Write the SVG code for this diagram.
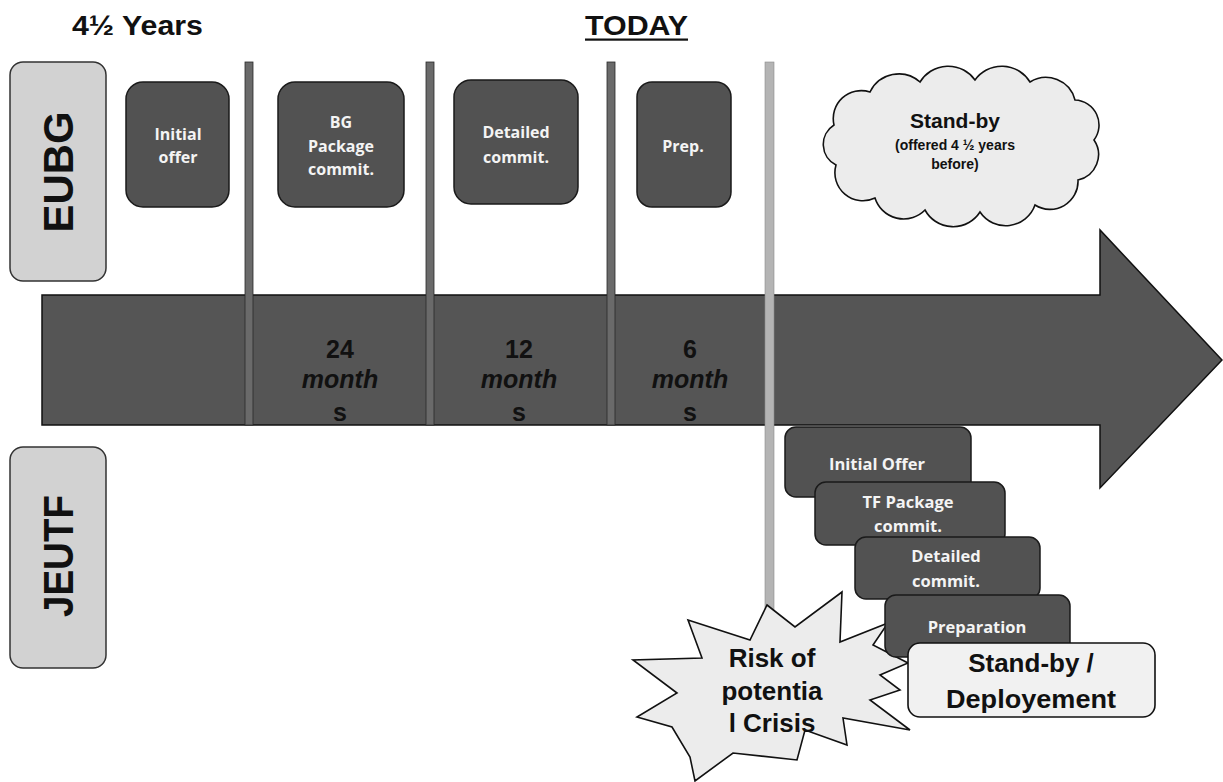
<svg xmlns="http://www.w3.org/2000/svg" width="1223" height="782" viewBox="0 0 1223 782">
<style>
.title{font-family:"Liberation Sans",Arial,sans-serif;font-weight:bold;font-size:28px;fill:#111}
.lane{fill:#d2d2d2;stroke:#333;stroke-width:1.5}
.laneTxt{font-family:"Liberation Sans",Arial,sans-serif;font-weight:bold;font-size:42px;fill:#111}
.dark{fill:#525252;stroke:#1a1a1a;stroke-width:1.5}
.wt{font-family:"Open Sans","Liberation Sans",sans-serif;font-weight:bold;font-size:16px;fill:#f4f4f4;text-anchor:middle}
.wt2{font-family:"Open Sans","Liberation Sans",sans-serif;font-weight:bold;font-size:16.5px;fill:#f4f4f4;text-anchor:middle}
.mon{font-family:"Liberation Sans",Arial,sans-serif;font-weight:bold;font-size:25px;fill:#111;text-anchor:middle}
.it{font-style:italic}
.div{fill:#6a6a6a;stroke:#2a2a2a;stroke-width:0.8}
.light{fill:#ececec;stroke:#111;stroke-width:1.6}
.bk{font-family:"Liberation Sans",Arial,sans-serif;font-weight:bold;fill:#111;text-anchor:middle}
</style>

<g id="titles">
<text class="title" x="72" y="35" textLength="131" lengthAdjust="spacingAndGlyphs">4½ Years</text>
<text class="title" x="585" y="35" textLength="103" lengthAdjust="spacingAndGlyphs">TODAY</text>
<rect x="585" y="38.5" width="103" height="2.2" fill="#111"/>
</g>

<g id="lane-eubg">
<rect class="lane" x="10" y="62" width="96" height="219" rx="13"/>
<text class="laneTxt" transform="translate(58,172) rotate(-90)" text-anchor="middle" dominant-baseline="central" textLength="121" lengthAdjust="spacingAndGlyphs">EUBG</text>
</g>

<g id="lane-jeutf">
<rect class="lane" x="10" y="447" width="96" height="221" rx="13"/>
<text class="laneTxt" transform="translate(58,556) rotate(-90)" text-anchor="middle" dominant-baseline="central" textLength="122" lengthAdjust="spacingAndGlyphs">JEUTF</text>
</g>

<g id="timeline-arrow">
<polygon points="42,295 1100,295 1100,230 1222,360 1100,488 1100,425 42,425" fill="#555555" stroke="#111" stroke-width="1.5"/>
</g>

<g id="dividers">
<rect class="div" x="245" y="62" width="8" height="363"/>
<rect class="div" x="426" y="62" width="8" height="363"/>
<rect class="div" x="607" y="62" width="8" height="363"/>
<rect x="765" y="62" width="9" height="548" fill="#b4b4b4" stroke="#8a8a8a" stroke-width="0.6"/>
</g>

<g id="months">
<text class="mon" x="340" y="358">24</text>
<text class="mon it" x="340" y="388">month</text>
<text class="mon" x="340" y="421">s</text>
<text class="mon" x="519" y="358">12</text>
<text class="mon it" x="519" y="388">month</text>
<text class="mon" x="519" y="421">s</text>
<text class="mon" x="690" y="358">6</text>
<text class="mon it" x="690" y="388">month</text>
<text class="mon" x="690" y="421">s</text>
</g>

<g id="eubg-initial-offer">
<rect class="dark" x="126" y="82" width="103" height="125" rx="17"/>
<text class="wt" x="178" y="140">Initial</text>
<text class="wt" x="178" y="163">offer</text>
</g>

<g id="eubg-bg-package">
<rect class="dark" x="278" y="82" width="126" height="125" rx="17"/>
<text class="wt" x="341" y="128">BG</text>
<text class="wt" x="341" y="152">Package</text>
<text class="wt" x="341" y="175">commit.</text>
</g>

<g id="eubg-detailed">
<rect class="dark" x="454" y="80" width="124" height="124" rx="17"/>
<text class="wt" x="516" y="138">Detailed</text>
<text class="wt" x="516" y="163">commit.</text>
</g>

<g id="eubg-prep">
<rect class="dark" x="637" y="82" width="94" height="125" rx="15"/>
<text class="wt" x="683" y="152">Prep.</text>
</g>

<g id="standby-cloud">
<path class="light" d="M834,125 A28,28 0 0 1 870,92 A32,32 0 0 1 920,82 A33,33 0 0 1 975,80 A33,33 0 0 1 1030,82 A30,30 0 0 1 1075,100 A25,25 0 0 1 1094,140 A26,26 0 0 1 1078,180 A28,28 0 0 1 1035,205 A31,31 0 0 1 980,212 A32,32 0 0 1 925,210 A30,30 0 0 1 875,198 A28,28 0 0 1 836,165 A23,23 0 0 1 834,125 Z"/>
<text class="bk" x="955" y="128" font-size="21">Stand-by</text>
<text class="bk" x="955" y="150" font-size="14">(offered 4 ½ years</text>
<text class="bk" x="955" y="169" font-size="14">before)</text>
</g>

<g id="risk-crisis">
<polygon class="light" points="767,605 795,627 842,592 840,642 888,623 873,645 908,663 880,675 900,690 870,700 910,730 843,718 847,745 805,730 797,760 733,753 695,781 690,757 672,727 637,717 677,693 633,660 702,658 688,620 750,640"/>
<text class="bk" x="772" y="667" font-size="26">Risk of</text>
<text class="bk" x="772" y="700" font-size="26">potentia</text>
<text class="bk" x="772" y="732" font-size="26">l Crisis</text>
</g>

<g id="jeutf-initial-offer">
<rect class="dark" x="785" y="427" width="186" height="70" rx="11"/>
<text class="wt2" x="877" y="470">Initial Offer</text>
</g>

<g id="jeutf-tf-package">
<rect class="dark" x="815" y="482" width="190" height="63" rx="11"/>
<text class="wt2" x="908" y="508">TF Package</text>
<text class="wt2" x="908" y="532">commit.</text>
</g>

<g id="jeutf-detailed">
<rect class="dark" x="855" y="537" width="185" height="62" rx="11"/>
<text class="wt2" x="946" y="562">Detailed</text>
<text class="wt2" x="946" y="587">commit.</text>
</g>

<g id="jeutf-preparation">
<rect class="dark" x="885" y="595" width="185" height="62" rx="11"/>
<text class="wt2" x="977" y="633">Preparation</text>
</g>

<g id="jeutf-standby">
<rect x="908" y="643" width="247" height="74" rx="12" fill="#f1f1f1" stroke="#111" stroke-width="1.6"/>
<text class="bk" x="1031" y="672" font-size="26" font-family="Open Sans, Liberation Sans, sans-serif">Stand-by /</text>
<text class="bk" x="1031" y="708" font-size="26" font-family="Open Sans, Liberation Sans, sans-serif" textLength="170" lengthAdjust="spacingAndGlyphs">Deployement</text>
</g>
</svg>
